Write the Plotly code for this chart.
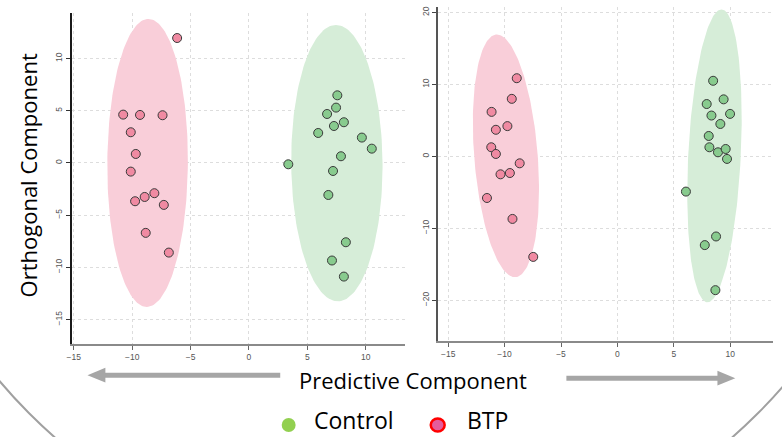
import numpy as np
import plotly.graph_objects as go

# ---- scores, left model ----
left_btp_x = [-6.15, -10.77, -9.33, -7.40, -10.12, -9.69, -10.12, -9.75, -8.93, -8.10, -7.29, -8.84, -6.86]
left_btp_y = [11.97, 4.63, 4.60, 4.57, 2.94, 0.86, -0.83, -3.67, -3.26, -2.90, -4.02, -6.70, -8.59]
left_ctl_x = [3.37, 5.93, 6.69, 7.46, 7.57, 7.28, 8.13, 9.67, 10.52, 7.88, 7.20, 6.80, 8.30, 7.11, 8.13]
left_ctl_y = [-0.13, 2.87, 4.69, 5.30, 6.48, 3.54, 3.90, 2.43, 1.37, 0.64, -0.77, -3.07, -7.60, -9.35, -10.89]

# ---- scores, right model ----
right_btp_x = [-8.92, -9.36, -11.15, -10.77, -9.75, -11.18, -10.77, -8.66, -10.36, -9.53, -11.56, -9.30, -7.46]
right_btp_y = [10.86, 7.99, 6.18, 3.69, 4.20, 1.26, 0.33, -0.97, -2.50, -2.32, -5.79, -8.70, -13.98]
right_ctl_x = [8.48, 7.91, 9.41, 9.98, 8.33, 9.12, 8.09, 8.15, 8.91, 9.59, 9.71, 6.07, 8.74, 7.74, 8.68]
right_ctl_y = [10.50, 7.27, 7.92, 5.90, 5.67, 4.50, 2.83, 1.26, 0.56, 1.02, -0.36, -4.90, -11.14, -12.34, -18.60]

# ---- confidence ellipses: centre, vertical conjugate semi-axis, horizontal semi-width ----
ell_left_btp = dict(cx=-8.68, cy=0.0, ax=0.07, ay=13.8, bx=3.45)
ell_left_ctl = dict(cx=7.53, cy=-0.02, ax=-0.08, ay=13.24, bx=3.91)
ell_right_btp = dict(cx=-9.88, cy=0.07, ax=-0.80, ay=16.87, bx=2.82)
ell_right_ctl = dict(cx=8.60, cy=0.07, ax=0.62, ay=20.35, bx=2.33)

x_ticks = [-15, -10, -5, 0, 5, 10]
left_y_ticks = [-15, -10, -5, 0, 5, 10]
right_y_ticks = [-20, -10, 0, 10, 20]

PINK_FILL = "#F9CED9"
GREEN_FILL = "#D6EDD8"
PINK_PT = "#F08AA2"
GREEN_PT = "#88CB8E"
W, H = 782, 437


def ellipse(e):
    t = np.linspace(0, 2 * np.pi, 181)
    x = e["cx"] + e["ax"] * np.cos(t) + e["bx"] * np.sin(t)
    y = e["cy"] + e["ay"] * np.cos(t)
    return x, y


fig = go.Figure()

for e, col, xa, ya in [
    (ell_left_btp, PINK_FILL, "x", "y"),
    (ell_left_ctl, GREEN_FILL, "x", "y"),
    (ell_right_btp, PINK_FILL, "x2", "y2"),
    (ell_right_ctl, GREEN_FILL, "x2", "y2"),
]:
    ex, ey = ellipse(e)
    fig.add_trace(go.Scatter(x=ex, y=ey, mode="lines", fill="toself", fillcolor=col,
                             line=dict(width=0, color=col), hoverinfo="skip",
                             showlegend=False, xaxis=xa, yaxis=ya))

for xs, ys, col, xa, ya in [
    (left_btp_x, left_btp_y, PINK_PT, "x", "y"),
    (left_ctl_x, left_ctl_y, GREEN_PT, "x", "y"),
    (right_btp_x, right_btp_y, PINK_PT, "x2", "y2"),
    (right_ctl_x, right_ctl_y, GREEN_PT, "x2", "y2"),
]:
    fig.add_trace(go.Scatter(x=xs, y=ys, mode="markers",
                             marker=dict(size=9, color=col, line=dict(width=1, color="#3a3a3a")),
                             showlegend=False, xaxis=xa, yaxis=ya))


def px(x):
    return x / W


def py(y):
    return 1 - y / H


tick_font = dict(family="Liberation Sans, Arial", size=8.5, color="#555")
grid = dict(showgrid=True, gridcolor="#DDDDDD", griddash="dot", gridwidth=1, zeroline=False)

fig.update_layout(
    width=W, height=H, margin=dict(l=0, r=0, t=0, b=0),
    paper_bgcolor="white", plot_bgcolor="white", showlegend=False,
    xaxis=dict(domain=[px(67), px(403)], range=[-15.19, 13.4], tickvals=x_ticks,
               ticks="outside", ticklen=4, tickcolor="#666", tickfont=tick_font,
               showline=True, linecolor="#8a8a8a", linewidth=2, anchor="y", **grid),
    yaxis=dict(domain=[py(344), py(12)], range=[-17.37, 14.37], tickvals=left_y_ticks,
               ticks="outside", ticklen=4, tickcolor="#333", tickfont=tick_font, tickangle=-90,
               showline=True, linecolor="#1a1a1a", linewidth=2, anchor="x", **grid),
    xaxis2=dict(domain=[px(436), px(773)], range=[-15.88, 13.79], tickvals=x_ticks,
                ticks="outside", ticklen=4, tickcolor="#666", tickfont=tick_font,
                showline=True, linecolor="#8a8a8a", linewidth=2, anchor="y2", **grid),
    yaxis2=dict(domain=[py(341), py(6)], range=[-25.7, 20.76], tickvals=right_y_ticks,
                ticks="outside", ticklen=4, tickcolor="#444", tickfont=tick_font, tickangle=-90,
                showline=True, linecolor="#555", linewidth=2, anchor="x2", **grid),
)

title_font = dict(family="Open Sans, sans-serif", size=22, color="#000")
legend_font = dict(family="Open Sans, sans-serif", size=23, color="#000")
ARROW = "#A6A6A6"

annotations = [
    dict(text="Orthogonal Component", x=px(23), y=py(175), xref="paper", yref="paper",
         showarrow=False, textangle=-90, font=title_font, xanchor="center", yanchor="middle"),
    dict(text="Predictive Component", x=px(411), y=py(380), xref="paper", yref="paper",
         showarrow=False, font=title_font, xanchor="center", yanchor="middle"),
    dict(text="Control", x=px(310), y=py(436.5), xref="paper", yref="paper",
         showarrow=False, font=legend_font, xanchor="left", yanchor="bottom", borderpad=0),
    dict(text="BTP", x=px(464), y=py(436.5), xref="paper", yref="paper",
         showarrow=False, font=legend_font, xanchor="left", yanchor="bottom", borderpad=0),
]

shapes = [
    # large framing arc
    dict(type="circle", xref="paper", yref="paper", layer="below",
         x0=px(391 - 519), x1=px(391 + 519), y0=py(46 + 519), y1=py(46 - 519),
         line=dict(color="#A0A0A0", width=2)),
    # left arrow
    dict(type="line", xref="paper", yref="paper", x0=px(277), x1=px(98), y0=py(375), y1=py(375),
         line=dict(color=ARROW, width=5)),
    dict(type="path", xref="paper", yref="paper", fillcolor=ARROW, line=dict(width=0),
         path=f"M {px(83)} {py(375)} L {px(101)} {py(367.5)} L {px(101)} {py(382.5)} Z"),
    # right arrow
    dict(type="line", xref="paper", yref="paper", x0=px(565), x1=px(720), y0=py(378), y1=py(378),
         line=dict(color=ARROW, width=5)),
    dict(type="path", xref="paper", yref="paper", fillcolor=ARROW, line=dict(width=0),
         path=f"M {px(735)} {py(378)} L {px(717)} {py(370.5)} L {px(717)} {py(385.5)} Z"),
    # legend markers
    dict(type="circle", xref="paper", yref="paper", fillcolor="#92D050", line=dict(width=0),
         x0=px(278.5), x1=px(292.5), y0=py(432), y1=py(418)),
    dict(type="circle", xref="paper", yref="paper", fillcolor="#E55C9C",
         line=dict(width=2.5, color="#FF0000"),
         x0=px(428.5), x1=px(442.5), y0=py(431.5), y1=py(418.5)),
]

fig.update_layout(annotations=annotations, shapes=shapes)
fig.write_html("out.html")
